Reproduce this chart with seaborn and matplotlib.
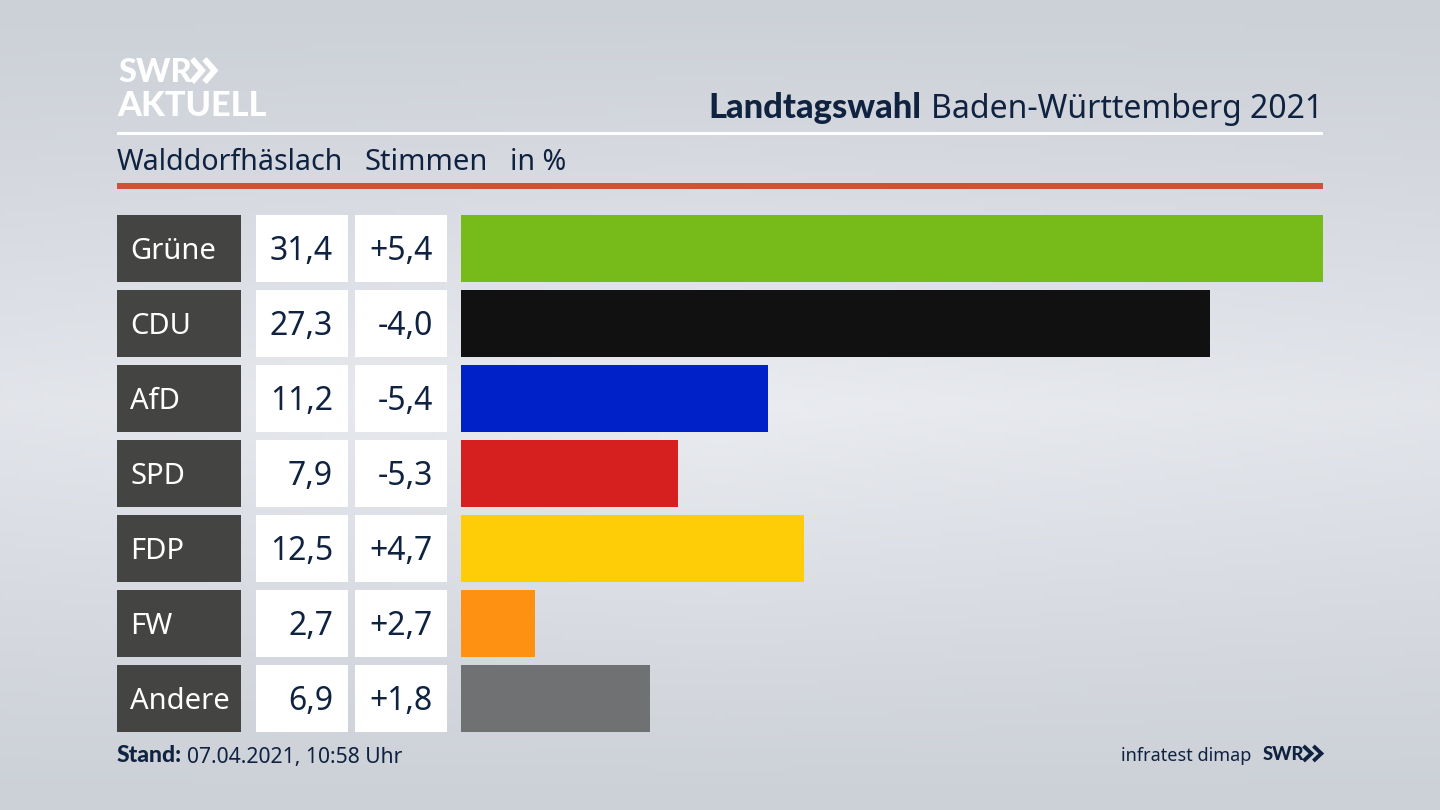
import numpy as np
import pandas as pd
import matplotlib.pyplot as plt
from matplotlib.patches import Rectangle
import seaborn as sns

# Values
parties = ["Grüne", "CDU", "AfD", "SPD", "FDP", "FW", "Andere"]
shares = [31.4, 27.3, 11.2, 7.9, 12.5, 2.7, 6.9]
changes = ["+5,4", "-4,0", "-5,4", "-5,3", "+4,7", "+2,7", "+1,8"]
colors = ["#76bb19", "#111111", "#0020c8", "#d61f1f", "#ffcc08", "#ff9112", "#707173"]

navy = "#0f2240"
sns.set_theme(style="white")
plt.rcParams["font.family"] = ["Noto Sans", "DejaVu Sans"]
BOLD = "Lato"

W, H = 1440, 810
fig = plt.figure(figsize=(14.4, 8.1), dpi=100)

# background gradient, lightest a bit above the middle
bg = fig.add_axes([0, 0, 1, 1], zorder=0)
yy, xx = np.mgrid[0:1:162j, 0:1:288j]
shade = np.clip(1 - np.abs(yy - 0.5) / 0.5, 0, 1) ** 1.1
shade = shade * (1 - 0.25 * np.abs(xx - 0.5) * 2)
top = np.array([204, 208, 215]) / 255
mid = np.array([234, 236, 241]) / 255
bg.imshow(top + (mid - top) * shade[..., None], aspect="auto", extent=(0, W, H, 0))
bg.set_xlim(0, W)
bg.set_ylim(H, 0)
bg.axis("off")


def box(x0, y0, x1, y1, color):
    bg.add_patch(Rectangle((x0, y0), x1 - x0, y1 - y0, color=color, lw=0))


def chevrons(x0, y0, w, h, color, lw):
    # the double arrow of the logo
    for dx in (0, w * 0.52):
        bg.plot([x0 + dx, x0 + dx + w * 0.42, x0 + dx], [y0, y0 + h / 2, y0 + h],
                color=color, lw=lw, solid_joinstyle="miter", solid_capstyle="butt")


# header
bg.text(118, 82, "SWR", color="white", fontsize=23.5, family=BOLD, fontweight="black", va="baseline", ha="left")
chevrons(192, 59, 24, 23, "white", 4.2)
bg.text(117, 116, "AKTUELL", color="white", fontsize=24.7, family=BOLD, fontweight="black", va="baseline", ha="left")
bg.text(1323, 118, "Baden-Württemberg 2021", color=navy, fontsize=23, va="baseline", ha="right")
bg.text(921, 118, "Landtagswahl", color=navy, fontsize=24.8, family=BOLD, fontweight="black", va="baseline", ha="right")
box(117, 132, 1323, 135, "white")
bg.text(117, 163, "Walddorfhäslach", color=navy, fontsize=20.6, va="center")
bg.text(365, 163, "Stimmen", color=navy, fontsize=21, va="center")
bg.text(510, 163, "in %", color=navy, fontsize=20.6, va="center")
box(117, 183, 1323, 189, "#cf5139")

# table cells beside the bars
row_h, pitch, first = 66.5, 75, 215
for i, party in enumerate(parties):
    y0 = first + i * pitch
    yc = y0 + row_h / 2 + 3
    box(117, y0, 241, y0 + row_h, "#444442")
    box(256, y0, 348, y0 + row_h, "white")
    box(355, y0, 447, y0 + row_h, "white")
    bg.text(130, yc, party, color="white", fontsize=21, va="center")
    bg.text(333, yc, f"{shares[i]:.1f}".replace(".", ","), color=navy, fontsize=23, va="center", ha="right")
    bg.text(433, yc, changes[i], color=navy, fontsize=23, va="center", ha="right")

# bars
ax = fig.add_axes([461 / W, 1 - (first - (pitch - row_h) / 2 + 7 * pitch) / H, 862 / W, 7 * pitch / H], zorder=1)
ax.patch.set_alpha(0)
df = pd.DataFrame({"party": parties, "share": shares})
sns.barplot(data=df, y="party", x="share", hue="party", palette=colors, legend=False,
            width=row_h / pitch, saturation=1, linewidth=0, ax=ax)
ax.set_xlim(0, 31.4)
ax.set_ylim(6.5, -0.5)
ax.axis("off")

# footer
bg.text(117, 762, "Stand:", color=navy, fontsize=16.5, family=BOLD, fontweight="black", va="baseline")
bg.text(187, 757, "07.04.2021, 10:58 Uhr", color=navy, fontsize=15.2, va="center")
bg.text(1251, 756, "infratest dimap", color=navy, fontsize=13, va="center", ha="right")
bg.text(1263, 760, "SWR", color=navy, fontsize=13.2, family=BOLD, fontweight="black", va="baseline")
chevrons(1303.5, 746, 19, 15, navy, 2.8)

fig.savefig("out.png", dpi=100)
